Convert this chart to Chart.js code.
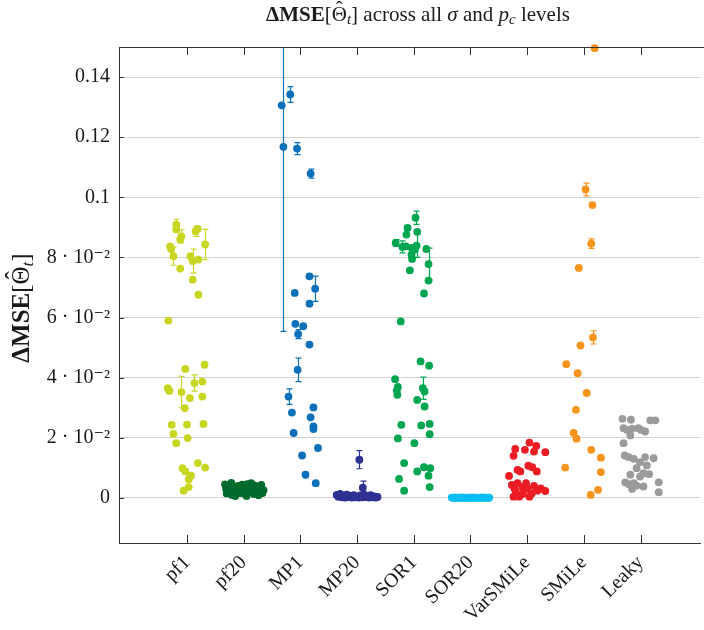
<!DOCTYPE html>
<html>
<head>
<meta charset="utf-8">
<script src="https://cdn.jsdelivr.net/npm/chart.js@4"></script>
<style>
  html, body { margin: 0; padding: 0; background: #fff; }
  canvas { display: block; }
</style>
</head>
<body>
<canvas id="chart" width="704" height="630"></canvas>
<script>
// methods on the x axis, in order
const categories = ['pf1', 'pf20', 'MP1', 'MP20', 'SOR1', 'SOR20', 'VarSMiLe', 'SMiLe', 'Leaky'];
const colors = ['#c9d621', '#006b2d', '#0b6fba', '#2e3192', '#00a550', '#00bdf2', '#ec1c24', '#f7941d', '#9b9b9b'];
const yTicks = [0, 0.02, 0.04, 0.06, 0.08, 0.1, 0.12, 0.14];

// each point: [jitter around the category, value, error (optional)]
const pf1 = [
  [-0.19, 0.0909, 0.0018], [-0.19, 0.0893], [-0.10, 0.0870, 0.0022], [-0.12, 0.0859],
  [0.15, 0.0887, 0.0017], [0.19, 0.0895], [-0.30, 0.0837], [-0.28, 0.0828],
  [0.32, 0.0843, 0.005], [-0.24, 0.0804, 0.003], [0.06, 0.0804], [0.10, 0.0788, 0.004],
  [0.20, 0.0793], [-0.12, 0.0763], [0.10, 0.0726], [0.20, 0.0676], [-0.33, 0.0590],
  [-0.03, 0.0429], [0.31, 0.0443], [-0.34, 0.0365], [-0.31, 0.0356], [-0.10, 0.0352, 0.0052],
  [0.13, 0.0382, 0.0027], [0.27, 0.0387], [0.05, 0.0332], [0.27, 0.0337], [-0.04, 0.0299],
  [-0.27, 0.0243], [0.00, 0.0244], [0.29, 0.0246], [-0.24, 0.0213], [-0.19, 0.0182],
  [0.01, 0.0199], [-0.08, 0.0099], [-0.03, 0.0088], [0.19, 0.0116], [0.32, 0.0101],
  [0.07, 0.0074], [0.03, 0.0062], [0.03, 0.0036], [-0.06, 0.0024]
];
const pf20 = [
  [-0.33, 0.0045], [-0.31, 0.0030], [-0.30, 0.0015], [-0.27, 0.0038], [-0.25, 0.0022],
  [-0.22, 0.0050], [-0.21, 0.0010], [-0.17, 0.0032], [-0.12, 0.0024], [-0.10, 0.0040],
  [-0.06, 0.0016], [-0.03, 0.0044], [0.00, 0.0028], [0.03, 0.0012], [0.06, 0.0046],
  [0.08, 0.0033], [0.10, 0.0019], [0.13, 0.0049], [0.15, 0.0026], [0.18, 0.0013],
  [0.20, 0.0041], [0.23, 0.0030], [0.26, 0.0009], [0.28, 0.0036], [0.31, 0.0043],
  [0.33, 0.0016], [0.35, 0.0026], [-0.15, 0.0006], [0.05, 0.0006]
];
const mp1 = [
  [-0.33, 0.1306], [-0.18, 0.1342, 0.0026], [-0.30, 0.1168, 0.0614], [-0.06, 0.1162, 0.002],
  [0.18, 0.1079, 0.0015], [0.16, 0.0737], [-0.10, 0.0682], [0.26, 0.0696, 0.0042],
  [0.16, 0.0646], [-0.09, 0.0579], [0.05, 0.0571], [-0.04, 0.0545, 0.0015], [0.16, 0.0510],
  [-0.05, 0.0426, 0.0039], [-0.21, 0.0337, 0.0026], [-0.15, 0.0284], [0.23, 0.0301],
  [0.18, 0.0268], [-0.12, 0.0216], [0.23, 0.0238], [0.23, 0.0229], [0.31, 0.0166],
  [0.03, 0.0141], [0.09, 0.0077], [0.27, 0.0049]
];
const mp20 = [
  [0.04, 0.0127, 0.003], [0.10, 0.0034, 0.0022],
  [-0.36, 0.0010], [-0.33, 0.0004], [-0.30, 0.0013], [-0.27, 0.0002], [-0.24, 0.0008],
  [-0.21, 0.0001], [-0.18, 0.0011], [-0.15, 0.0003], [-0.12, 0.0007], [-0.09, 0.0001],
  [-0.06, 0.0009], [-0.03, 0.0002], [0.00, 0.0005], [0.03, 0.0001], [0.06, 0.0008],
  [0.09, 0.0002], [0.12, 0.0012], [0.15, 0.0003], [0.18, 0.0006], [0.21, 0.0001],
  [0.24, 0.0009], [0.27, 0.0002], [0.30, 0.0005], [0.33, 0.0001], [0.36, 0.0003]
];
const sor1 = [
  [0.03, 0.0932, 0.0022], [-0.11, 0.0898], [-0.13, 0.0876], [0.06, 0.0885],
  [-0.32, 0.0848, 0.0011], [-0.20, 0.0835, 0.002], [-0.14, 0.0837], [-0.04, 0.0832],
  [0.02, 0.0826], [0.05, 0.0839, 0.0039], [-0.04, 0.0809], [-0.03, 0.0795],
  [0.22, 0.0828], [0.26, 0.0778, 0.0053], [0.26, 0.0723], [-0.07, 0.0757], [0.18, 0.0680],
  [-0.23, 0.0587], [0.12, 0.0454], [0.27, 0.0440], [-0.33, 0.0395], [-0.28, 0.0369],
  [-0.30, 0.0357], [-0.29, 0.0343], [0.16, 0.0365, 0.0037], [0.19, 0.0354], [0.06, 0.0326],
  [0.19, 0.0304], [-0.22, 0.0243], [0.13, 0.0241], [0.28, 0.0246], [0.28, 0.0212],
  [-0.28, 0.0198], [0.01, 0.0182], [-0.17, 0.0116], [0.06, 0.0088], [0.18, 0.0102],
  [0.29, 0.0099], [0.26, 0.0074], [-0.26, 0.0063], [0.28, 0.0036], [-0.17, 0.0024]
];
const sor20 = [
  [-0.33, 0.0001], [-0.30, 0.0000], [-0.27, 0.0002], [-0.24, 0.0000], [-0.21, 0.0001],
  [-0.18, 0.0000], [-0.15, 0.0002], [-0.12, 0.0000], [-0.09, 0.0001], [-0.06, 0.0000],
  [-0.03, 0.0001], [0.00, 0.0000], [0.03, 0.0002], [0.06, 0.0000], [0.09, 0.0001],
  [0.12, 0.0000], [0.15, 0.0001], [0.18, 0.0000], [0.21, 0.0002], [0.24, 0.0000],
  [0.27, 0.0001], [0.30, 0.0000], [0.33, 0.0001]
];
const varSmile = [
  [0.04, 0.0184], [0.16, 0.0173], [-0.21, 0.0163], [-0.04, 0.0160], [0.12, 0.0154],
  [0.32, 0.0152], [-0.24, 0.0140], [0.02, 0.0107], [0.09, 0.0102], [-0.17, 0.0093],
  [-0.12, 0.0088], [0.17, 0.0088], [-0.32, 0.0073], [-0.02, 0.0049], [-0.27, 0.0043],
  [-0.17, 0.0049], [-0.08, 0.0036], [0.00, 0.0032], [-0.20, 0.0021], [-0.08, 0.0013],
  [0.04, 0.0004], [0.18, 0.0024], [0.32, 0.0023], [0.24, 0.0032], [-0.24, 0.0004],
  [-0.14, 0.0004], [-0.05, 0.0027], [0.08, 0.0015], [-0.22, 0.0030], [0.12, 0.0040]
];
const smile = [
  [0.19, 0.1496], [0.03, 0.1026, 0.0021], [0.15, 0.0974], [0.13, 0.0846, 0.0016],
  [-0.09, 0.0765], [0.16, 0.0534, 0.0022], [-0.06, 0.0507], [-0.31, 0.0445],
  [-0.11, 0.0415], [0.05, 0.0349], [-0.14, 0.0293], [-0.18, 0.0216], [-0.13, 0.0197],
  [0.13, 0.0160], [0.30, 0.0134], [-0.33, 0.0101], [0.30, 0.0086], [0.25, 0.0027],
  [0.12, 0.0010]
];
const leaky = [
  [-0.32, 0.0263], [-0.17, 0.0260], [0.17, 0.0258], [0.26, 0.0258], [-0.30, 0.0232],
  [-0.24, 0.0226], [-0.15, 0.0230], [-0.04, 0.0232], [0.01, 0.0226], [0.08, 0.0221],
  [-0.18, 0.0208], [-0.30, 0.0182], [-0.28, 0.0141], [-0.21, 0.0136], [-0.12, 0.0130],
  [0.08, 0.0136], [0.23, 0.0132], [-0.01, 0.0119], [0.11, 0.0108], [-0.07, 0.0099],
  [0.05, 0.0082], [0.15, 0.0079], [-0.18, 0.0077], [-0.01, 0.0071], [-0.27, 0.0052],
  [-0.21, 0.0046], [-0.12, 0.0049], [-0.07, 0.0041], [0.05, 0.0038], [0.32, 0.0052],
  [-0.15, 0.0030], [0.32, 0.0019]
];
const series = [pf1, pf20, mp1, mp20, sor1, sor20, varSmile, smile, leaky];

const serif = '"Liberation Serif", "DejaVu Serif", serif';

function yLabel(v) {
  if (v === 0) return '0';
  if (v >= 0.1 - 1e-9) return String(+v.toFixed(2));
  return Math.round(v * 100) + ' · 10⁻²';
}

// draws a run of differently styled pieces centred on cx; pieces with hat get a circumflex
function drawRich(ctx, parts, cx, cy) {
  let w = 0;
  parts.forEach(p => { ctx.font = p.f; w += ctx.measureText(p.t).width; });
  let x = cx - w / 2;
  ctx.textBaseline = 'alphabetic';
  parts.forEach(p => {
    ctx.font = p.f;
    ctx.textAlign = 'left';
    const pw = ctx.measureText(p.t).width;
    ctx.fillText(p.t, x, cy + (p.dy || 0));
    if (p.hat) {
      ctx.textAlign = 'center';
      ctx.fillText('ˆ', x + pw / 2, cy - p.hat);
    }
    x += pw;
  });
}

const R = '21px ' + serif, B = 'bold 21px ' + serif, I = 'italic 21px ' + serif, S = 'italic 15px ' + serif;
const LR = '25px ' + serif, LB = 'bold 25px ' + serif, LS = 'italic 17px ' + serif;

const extras = {
  id: 'extras',
  beforeDatasetsDraw(chart) {
    const { ctx, chartArea: a, scales: { x, y } } = chart;
    ctx.save();
    ctx.beginPath();
    ctx.rect(a.left, a.top, a.right - a.left, a.bottom - a.top);
    ctx.clip();
    ctx.lineWidth = 1.2;
    chart.data.datasets.forEach(ds => {
      ctx.strokeStyle = ds.backgroundColor;
      ds.data.forEach(p => {
        if (!p.err) return;
        const px = Math.round(x.getPixelForValue(p.x)) + 0.5;
        const top = y.getPixelForValue(p.y + p.err);
        const bot = y.getPixelForValue(p.y - p.err);
        ctx.beginPath();
        ctx.moveTo(px, top); ctx.lineTo(px, bot);
        ctx.moveTo(px - 3, top); ctx.lineTo(px + 3, top);
        ctx.moveTo(px - 3, bot); ctx.lineTo(px + 3, bot);
        ctx.stroke();
      });
    });
    ctx.restore();
  },
  afterDraw(chart) {
    const { ctx, chartArea: a, scales: { x, y } } = chart;
    ctx.save();
    ctx.strokeStyle = '#333';
    ctx.lineWidth = 1;
    ctx.beginPath();
    // top frame line
    ctx.moveTo(a.left, a.top + 0.5); ctx.lineTo(chart.width, a.top + 0.5);
    // inward ticks
    categories.forEach((c, i) => {
      const px = Math.round(x.getPixelForValue(i + 1)) + 0.5;
      ctx.moveTo(px, a.bottom); ctx.lineTo(px, a.bottom - 8);
      ctx.moveTo(px, a.top); ctx.lineTo(px, a.top + 8);
    });
    yTicks.forEach(v => {
      const py = Math.round(y.getPixelForValue(v)) + 0.5;
      ctx.moveTo(a.left, py); ctx.lineTo(a.left + 5, py);
    });
    ctx.stroke();

    ctx.fillStyle = '#1a1a1a';
    drawRich(ctx, [
      { t: 'ΔMSE', f: B }, { t: '[', f: R }, { t: 'Θ', f: R, hat: 5 }, { t: 't', f: S, dy: 3 },
      { t: '] across all ', f: R }, { t: 'σ', f: I }, { t: ' and ', f: R },
      { t: 'p', f: I }, { t: 'c', f: S, dy: 3 }, { t: ' levels', f: R }
    ], 418, 21);

    ctx.translate(29, 308);
    ctx.rotate(-Math.PI / 2);
    drawRich(ctx, [
      { t: 'ΔMSE', f: LB }, { t: '[', f: LR }, { t: 'Θ', f: LR, hat: 6 },
      { t: 't', f: LS, dy: 4 }, { t: ']', f: LR }
    ], 0, 0);
    ctx.restore();
  }
};

new Chart(document.getElementById('chart'), {
  type: 'scatter',
  data: {
    datasets: series.map((pts, i) => ({
      label: categories[i],
      data: pts.map(p => ({ x: i + 1 + p[0], y: p[1], err: p[2] || 0 })),
      backgroundColor: colors[i],
      borderWidth: 0,
      pointRadius: 3.9,
      pointHoverRadius: 3.9,
      clip: false
    }))
  },
  options: {
    responsive: false,
    animation: false,
    layout: { padding: { top: 47, right: 0, left: 0, bottom: 0 } },
    plugins: { legend: { display: false }, tooltip: { enabled: false }, title: { display: false } },
    scales: {
      x: {
        type: 'linear',
        min: -0.2,
        max: 10.05,
        grid: { display: false },
        border: { display: true, color: '#333', width: 1 },
        afterBuildTicks: s => { s.ticks = categories.map((c, i) => ({ value: i + 1 })); },
        afterFit: s => { s.height = 87; s.paddingRight = 0; s.paddingLeft = 0; },
        ticks: {
          autoSkip: false,
          minRotation: 45,
          maxRotation: 45,
          padding: 0,
          color: '#1a1a1a',
          font: { family: serif, size: 20 },
          callback: v => categories[v - 1] || ''
        }
      },
      y: {
        min: -0.015,
        max: 0.15,
        afterBuildTicks: s => { s.ticks = yTicks.map(v => ({ value: v })); },
        afterFit: s => { s.width = 119; },
        grid: { color: '#d2d2d2', lineWidth: 1, drawTicks: false },
        border: { display: true, color: '#333', width: 1 },
        ticks: {
          padding: 9,
          color: '#1a1a1a',
          font: { family: serif, size: 20 },
          callback: v => yLabel(v)
        }
      }
    }
  },
  plugins: [extras]
});
</script>
</body>
</html>
